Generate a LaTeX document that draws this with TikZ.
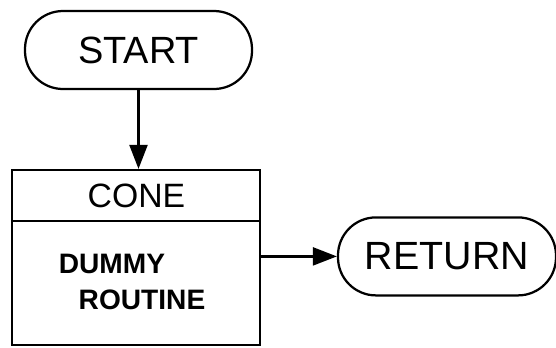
\documentclass[tikz,border=0pt]{standalone}
\usepackage{fontspec}
\setmainfont{Liberation Sans}
\usepackage{tikz}
\usetikzlibrary{arrows.meta,positioning,calc}

\begin{document}
\begin{tikzpicture}[
  line width=1.6pt,
  myterm/.style={
    draw,
    rectangle,
    rounded corners=0.95cm,
    minimum width=#1,
    minimum height=1.95cm,
    inner sep=0pt
    },
  mybox/.style={
    draw,
    rectangle,
    minimum width=6.2cm,
    minimum height=4.375cm,
    inner sep=0pt
    },
  myarrow/.style={
    -{Triangle[length=0.6cm,width=0.45cm]}
  }
]
\useasboundingbox (0,0) rectangle (13.9,-8.675);

\node[myterm=5.675cm] (start) at (3.4625,-1.25) {\fontsize{27}{27}\selectfont START};
\node[mybox] (cone) at (3.4,-6.4375) {};
\node[myterm=5.45cm] (return) at (11.175,-6.41) {\fontsize{28}{28}\selectfont RETURN};

% upper part of the box
\coordinate (divide) at (0,-5.525);
\draw (cone.west |- divide) -- (cone.east |- divide);
\node (conename) at (3.41,-4.9) {\fontsize{24}{24}\selectfont CONE};
\node (dummy) at (2.8,-6.59) {\fontsize{20}{20}\selectfont\bfseries DUMMY};
\node (routine) at (3.55,-7.5) {\fontsize{20}{20}\selectfont\bfseries ROUTINE};

\draw[myarrow] (start.south) -- (start.south |- cone.north);
\draw[myarrow] (cone.east |- return.west) -- (return.west);

\end{tikzpicture}
\end{document}
